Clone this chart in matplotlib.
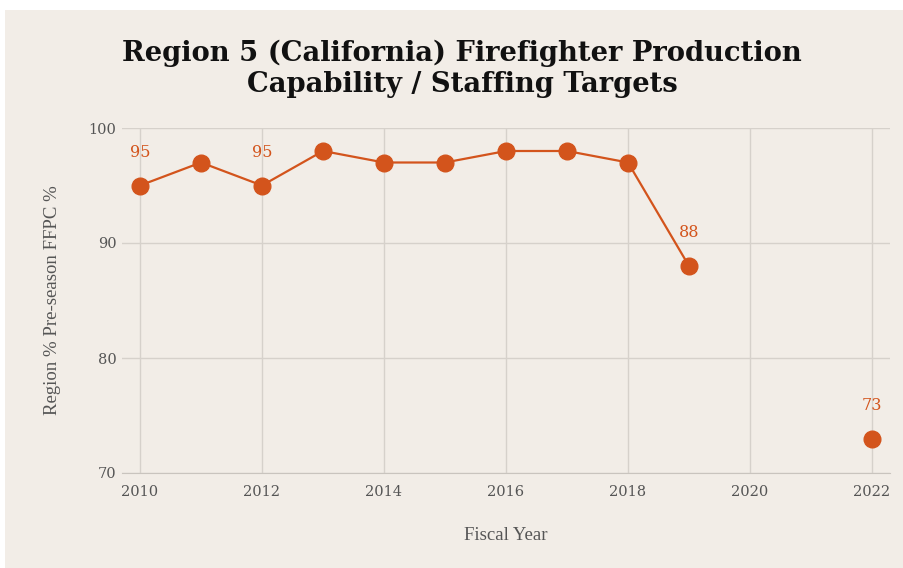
import numpy as np
import matplotlib.pyplot as plt
from matplotlib.patches import Rectangle

# data (no values for 2020 / 2021)
years = [2010, 2011, 2012, 2013, 2014, 2015, 2016, 2017, 2018, 2019, 2020, 2021, 2022]
ffpc = [95, 97, 95, 98, 97, 97, 98, 98, 97, 88, np.nan, np.nan, 73]
labelled = [2010, 2012, 2019, 2022]
xticks = [2010, 2012, 2014, 2016, 2018, 2020, 2022]
yticks = [70, 80, 90, 100]

bg = '#f2ede7'
orange = '#d3541c'
grid = '#d6d1cb'
txt = '#555555'

fig = plt.figure(figsize=(9.04, 5.68), dpi=100)
fig.patch.set_facecolor('white')
# beige panel with a thin white margin at top / left
fig.patches.append(Rectangle((5 / 904, 0), 1, 1 - 10 / 568, transform=fig.transFigure,
                             facecolor=bg, edgecolor='none', zorder=-1))

ax = fig.add_axes([122 / 904, 1 - 473 / 568, (890 - 122) / 904, (473 - 128) / 568])
ax.set_facecolor('none')

ax.plot(years, ffpc, color=orange, lw=1.6, marker='o', markersize=12,
        markerfacecolor=orange, markeredgecolor=orange, zorder=3)

for yr, v in zip(years, ffpc):
    if yr in labelled:
        ax.annotate(f'{v:.0f}', (yr, v), xytext=(0, 24), textcoords='offset points',
                    ha='center', va='center', color=orange, fontsize=11.5,
                    family='DejaVu Serif')

ax.set_xlim(2010 - 18 / 61, 2022 + 18 / 61)
ax.set_ylim(70, 100)
ax.set_xticks(xticks)
ax.set_yticks(yticks)
ax.grid(True, color=grid, lw=1)
ax.set_axisbelow(True)
for s in ['top', 'right', 'left']:
    ax.spines[s].set_visible(False)
ax.spines['bottom'].set_color('#c9c4be')
ax.tick_params(length=0, labelsize=10.5, labelcolor=txt)
ax.tick_params(axis='x', pad=9)
ax.tick_params(axis='y', pad=4)
for lab in ax.get_xticklabels() + ax.get_yticklabels():
    lab.set_family('DejaVu Serif')

ax.set_xlabel('Fiscal Year', fontsize=13.5, color=txt, family='Liberation Serif', labelpad=20)
ax.set_ylabel('Region % Pre-season FFPC %', fontsize=13.5, color=txt,
              family='Liberation Serif', labelpad=20)

fig.text(462 / 904, 1 - 69 / 568, 'Region 5 (California) Firefighter Production\nCapability / Staffing Targets',
         ha='center', va='center', fontsize=19.7, fontweight='bold', color='#111111',
         family='DejaVu Serif', linespacing=1.2)

fig.savefig('out.png', dpi=100, facecolor=fig.get_facecolor())
